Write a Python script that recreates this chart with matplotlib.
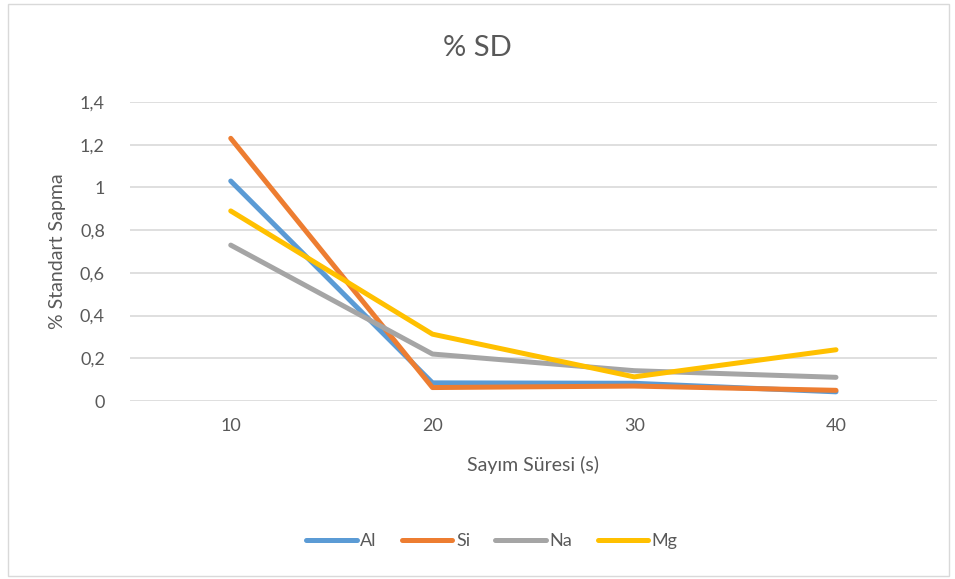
import numpy as np
import matplotlib.pyplot as plt
from matplotlib.patches import Rectangle
from matplotlib.ticker import FuncFormatter

plt.rcParams['font.family'] = ['Lato', 'DejaVu Sans']

# data
times = ["10", "20", "30", "40"]
al = [1.03, 0.085, 0.083, 0.043]
si = [1.23, 0.063, 0.07, 0.05]
na = [0.73, 0.22, 0.142, 0.111]
mg = [0.89, 0.313, 0.113, 0.24]

series = [("Al", al, "#5B9BD5"), ("Si", si, "#ED7D31"),
          ("Na", na, "#A5A5A5"), ("Mg", mg, "#FFC000")]

txt = "#595959"

fig = plt.figure(figsize=(9.55, 5.79), dpi=100)
ax = fig.add_axes([0.136, 0.3074, 0.845, 0.5164])

x = np.arange(len(times))
for name, vals, col in series:
    ax.plot(x, vals, color=col, lw=3.6, solid_capstyle="round",
            solid_joinstyle="round", label=name)

ax.set_xlim(-0.5, 3.5)
ax.set_ylim(0, 1.4)
ax.set_xticks(x)
ax.set_xticklabels(times)
ax.set_yticks(np.arange(0, 1.41, 0.2))
ax.yaxis.set_major_formatter(FuncFormatter(
    lambda v, p: ("%g" % round(v, 1)).replace(".", ",")))
ax.grid(axis="y", color="#D9D9D9", lw=1.2)
ax.set_axisbelow(True)
for s in ax.spines.values():
    s.set_visible(False)
ax.tick_params(length=0, labelsize=13, colors=txt, pad=12)
ax.tick_params(axis="y", pad=18)

ax.set_ylabel("% Standart Sapma", fontsize=14, color=txt, labelpad=10)
ax.set_xlabel("Sayım Süresi (s)", fontsize=14, color=txt, labelpad=16)
fig.text(0.5, 0.917, "% SD", ha="center", va="center", fontsize=21, color=txt)

leg = fig.legend(loc="center", bbox_to_anchor=(0.515, 0.065), ncol=4, frameon=False,
                 fontsize=13, labelcolor=txt, handlelength=2.8, handletextpad=0.2,
                 columnspacing=1.4)
for h in leg.get_lines():
    h.set_solid_capstyle("round")

fig.patches.append(Rectangle((0.008, 0.006), 0.986, 0.987, transform=fig.transFigure,
                             fill=False, edgecolor="#D9D9D9", lw=1))

fig.savefig("out.png", dpi=100)
